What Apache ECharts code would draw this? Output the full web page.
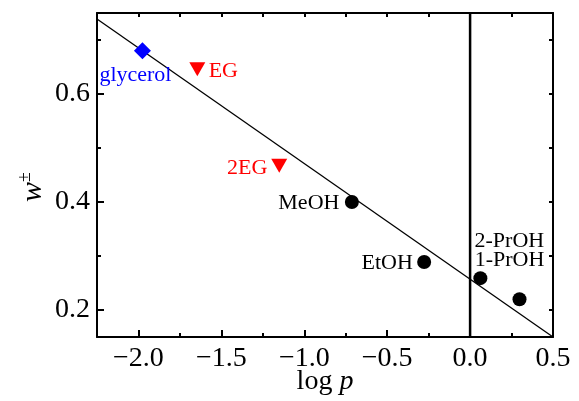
<!DOCTYPE html>
<html>
<head>
<meta charset="utf-8">
<script src="https://cdn.jsdelivr.net/npm/echarts@6/dist/echarts.min.js"></script>
<style>
  html, body { margin: 0; padding: 0; background: #fff; }
  #chart { width: 579px; height: 401px; }
</style>
</head>
<body>
<div id="chart"></div>
<script>
// Solvents: partition coefficient (log p) vs. w±
const solvents = ['glycerol', 'EG', '2EG', 'MeOH', 'EtOH', '2-PrOH', '1-PrOH'];
const logP = [-1.976, -1.645, -1.151, -0.713, -0.277, 0.062, 0.298];
const wPM = [0.680, 0.646, 0.467, 0.400, 0.289, 0.259, 0.220];
const groupOf = ['glycerol', 'glycol', 'glycol', 'alcohol', 'alcohol', 'alcohol', 'alcohol'];

// Linear fit, evaluated at the ends of the x range
const fitX = [-2.25, 0.5];
const fitY = [0.739, 0.150];

// Axis ranges and tick marks
const xRange = [-2.25, 0.5];
const yRange = [0.15, 0.75];
const xMajor = [-2.0, -1.5, -1.0, -0.5, 0.0, 0.5];
const xMinor = [-1.75, -1.25, -0.75, -0.25, 0.25];
const yMajor = [0.2, 0.4, 0.6];
const yMinor = [0.3, 0.5, 0.7];

const FONT = '"Liberation Serif", "Times New Roman", serif';

const groupStyle = {
  glycerol: { symbol: 'diamond', size: 17, color: '#0000ff', rotate: 0 },
  glycol:   { symbol: 'triangle', size: [16, 14], color: '#ff0000', rotate: 180 },
  alcohol:  { symbol: 'circle', size: 14, color: '#000000', rotate: 0 }
};
// label placement relative to each marker
const labelOffset = {
  'glycerol': [-7, 24], 'EG': [26, 2], '2EG': [-32, 2], 'MeOH': [-43, 1],
  'EtOH': [-37, 1], '2-PrOH': [29, -37], '1-PrOH': [-10, -39]
};

const minus = v => String(v).replace('-', '\u2212');

function pointsFor(group) {
  const out = [];
  solvents.forEach((name, i) => {
    if (groupOf[i] !== group) return;
    out.push({
      name: name,
      value: [logP[i], wPM[i]],
      label: {
        show: true, formatter: name, position: 'inside',
        offset: labelOffset[name],
        color: groupStyle[group].color,
        fontFamily: FONT, fontSize: 22
      }
    });
  });
  return out;
}

const blackLine = { lineStyle: { color: '#000', width: 2 } };

const option = {
  animation: false,
  backgroundColor: '#fff',
  grid: { left: 97, right: 26, top: 13, bottom: 64, outerBoundsMode: 'none', containLabel: false },
  xAxis: [
    {
      type: 'value', position: 'bottom', min: xRange[0], max: xRange[1],
      axisLine: { show: true, onZero: false, ...blackLine },
      axisTick: { show: true, inside: true, length: 7, customValues: xMajor, lineStyle: { color: '#000', width: 2 } },
      axisLabel: { customValues: xMajor, formatter: v => minus(v.toFixed(1)), color: '#000', fontFamily: FONT, fontSize: 28, margin: 8 },
      splitLine: { show: false },
      name: '{r|log }{i|p}', nameLocation: 'middle', nameGap: 31, nameMoveOverlap: false,
      nameTextStyle: { rich: {
        r: { fontFamily: FONT, fontSize: 28, color: '#000' },
        i: { fontFamily: FONT, fontSize: 28, fontStyle: 'italic', color: '#000' }
      } }
    },
    {
      type: 'value', position: 'bottom', min: xRange[0], max: xRange[1],
      axisLine: { show: false, onZero: false },
      axisTick: { show: true, inside: true, length: 4, customValues: xMinor, lineStyle: { color: '#000', width: 2 } },
      axisLabel: { show: false }, splitLine: { show: false }
    },
    {
      type: 'value', position: 'top', min: xRange[0], max: xRange[1],
      axisLine: { show: true, onZero: false, ...blackLine },
      axisTick: { show: true, inside: true, length: 4, customValues: xMajor.concat(xMinor), lineStyle: { color: '#000', width: 2 } },
      axisLabel: { show: false }, splitLine: { show: false }
    }
  ],
  yAxis: [
    {
      type: 'value', position: 'left', min: yRange[0], max: yRange[1],
      axisLine: { show: true, onZero: false, ...blackLine },
      axisTick: { show: true, inside: true, length: 7, customValues: yMajor, lineStyle: { color: '#000', width: 2 } },
      axisLabel: { customValues: yMajor, formatter: v => v.toFixed(1), color: '#000', fontFamily: FONT, fontSize: 28, margin: 7 },
      splitLine: { show: false },
      name: '{w|w}{s|\u00b1}', nameLocation: 'middle', nameGap: 47, nameRotate: 90, nameMoveOverlap: false,
      nameTextStyle: { rich: {
        w: { fontFamily: FONT, fontSize: 30, fontStyle: 'italic', color: '#000' },
        s: { fontFamily: FONT, fontSize: 18, color: '#000', padding: [0, 24, 16, 0] }
      } }
    },
    {
      type: 'value', position: 'left', min: yRange[0], max: yRange[1],
      axisLine: { show: false, onZero: false },
      axisTick: { show: true, inside: true, length: 4, customValues: yMinor, lineStyle: { color: '#000', width: 2 } },
      axisLabel: { show: false }, splitLine: { show: false }
    },
    {
      type: 'value', position: 'right', min: yRange[0], max: yRange[1],
      axisLine: { show: true, onZero: false, ...blackLine },
      axisTick: { show: true, inside: true, length: 4, customValues: yMajor.concat(yMinor), lineStyle: { color: '#000', width: 2 } },
      axisLabel: { show: false }, splitLine: { show: false }
    }
  ],
  series: [
    {
      type: 'line', name: 'fit', symbol: 'none', silent: true,
      data: fitX.map((x, i) => [x, fitY[i]]),
      lineStyle: { color: '#000', width: 1.3 }, z: 2
    },
    {
      type: 'line', name: 'zero', symbol: 'none', silent: true,
      data: [[0, yRange[0]], [0, yRange[1]]],
      lineStyle: { color: '#000', width: 2.5 }, z: 2
    }
  ].concat(['glycerol', 'glycol', 'alcohol'].map(g => ({
    type: 'scatter', name: g,
    symbol: groupStyle[g].symbol, symbolSize: groupStyle[g].size, symbolRotate: groupStyle[g].rotate,
    itemStyle: { color: groupStyle[g].color, opacity: 1 },
    data: pointsFor(g), z: 3
  })))
};

echarts.init(document.getElementById('chart'), null, { renderer: 'canvas' }).setOption(option);
</script>
</body>
</html>
